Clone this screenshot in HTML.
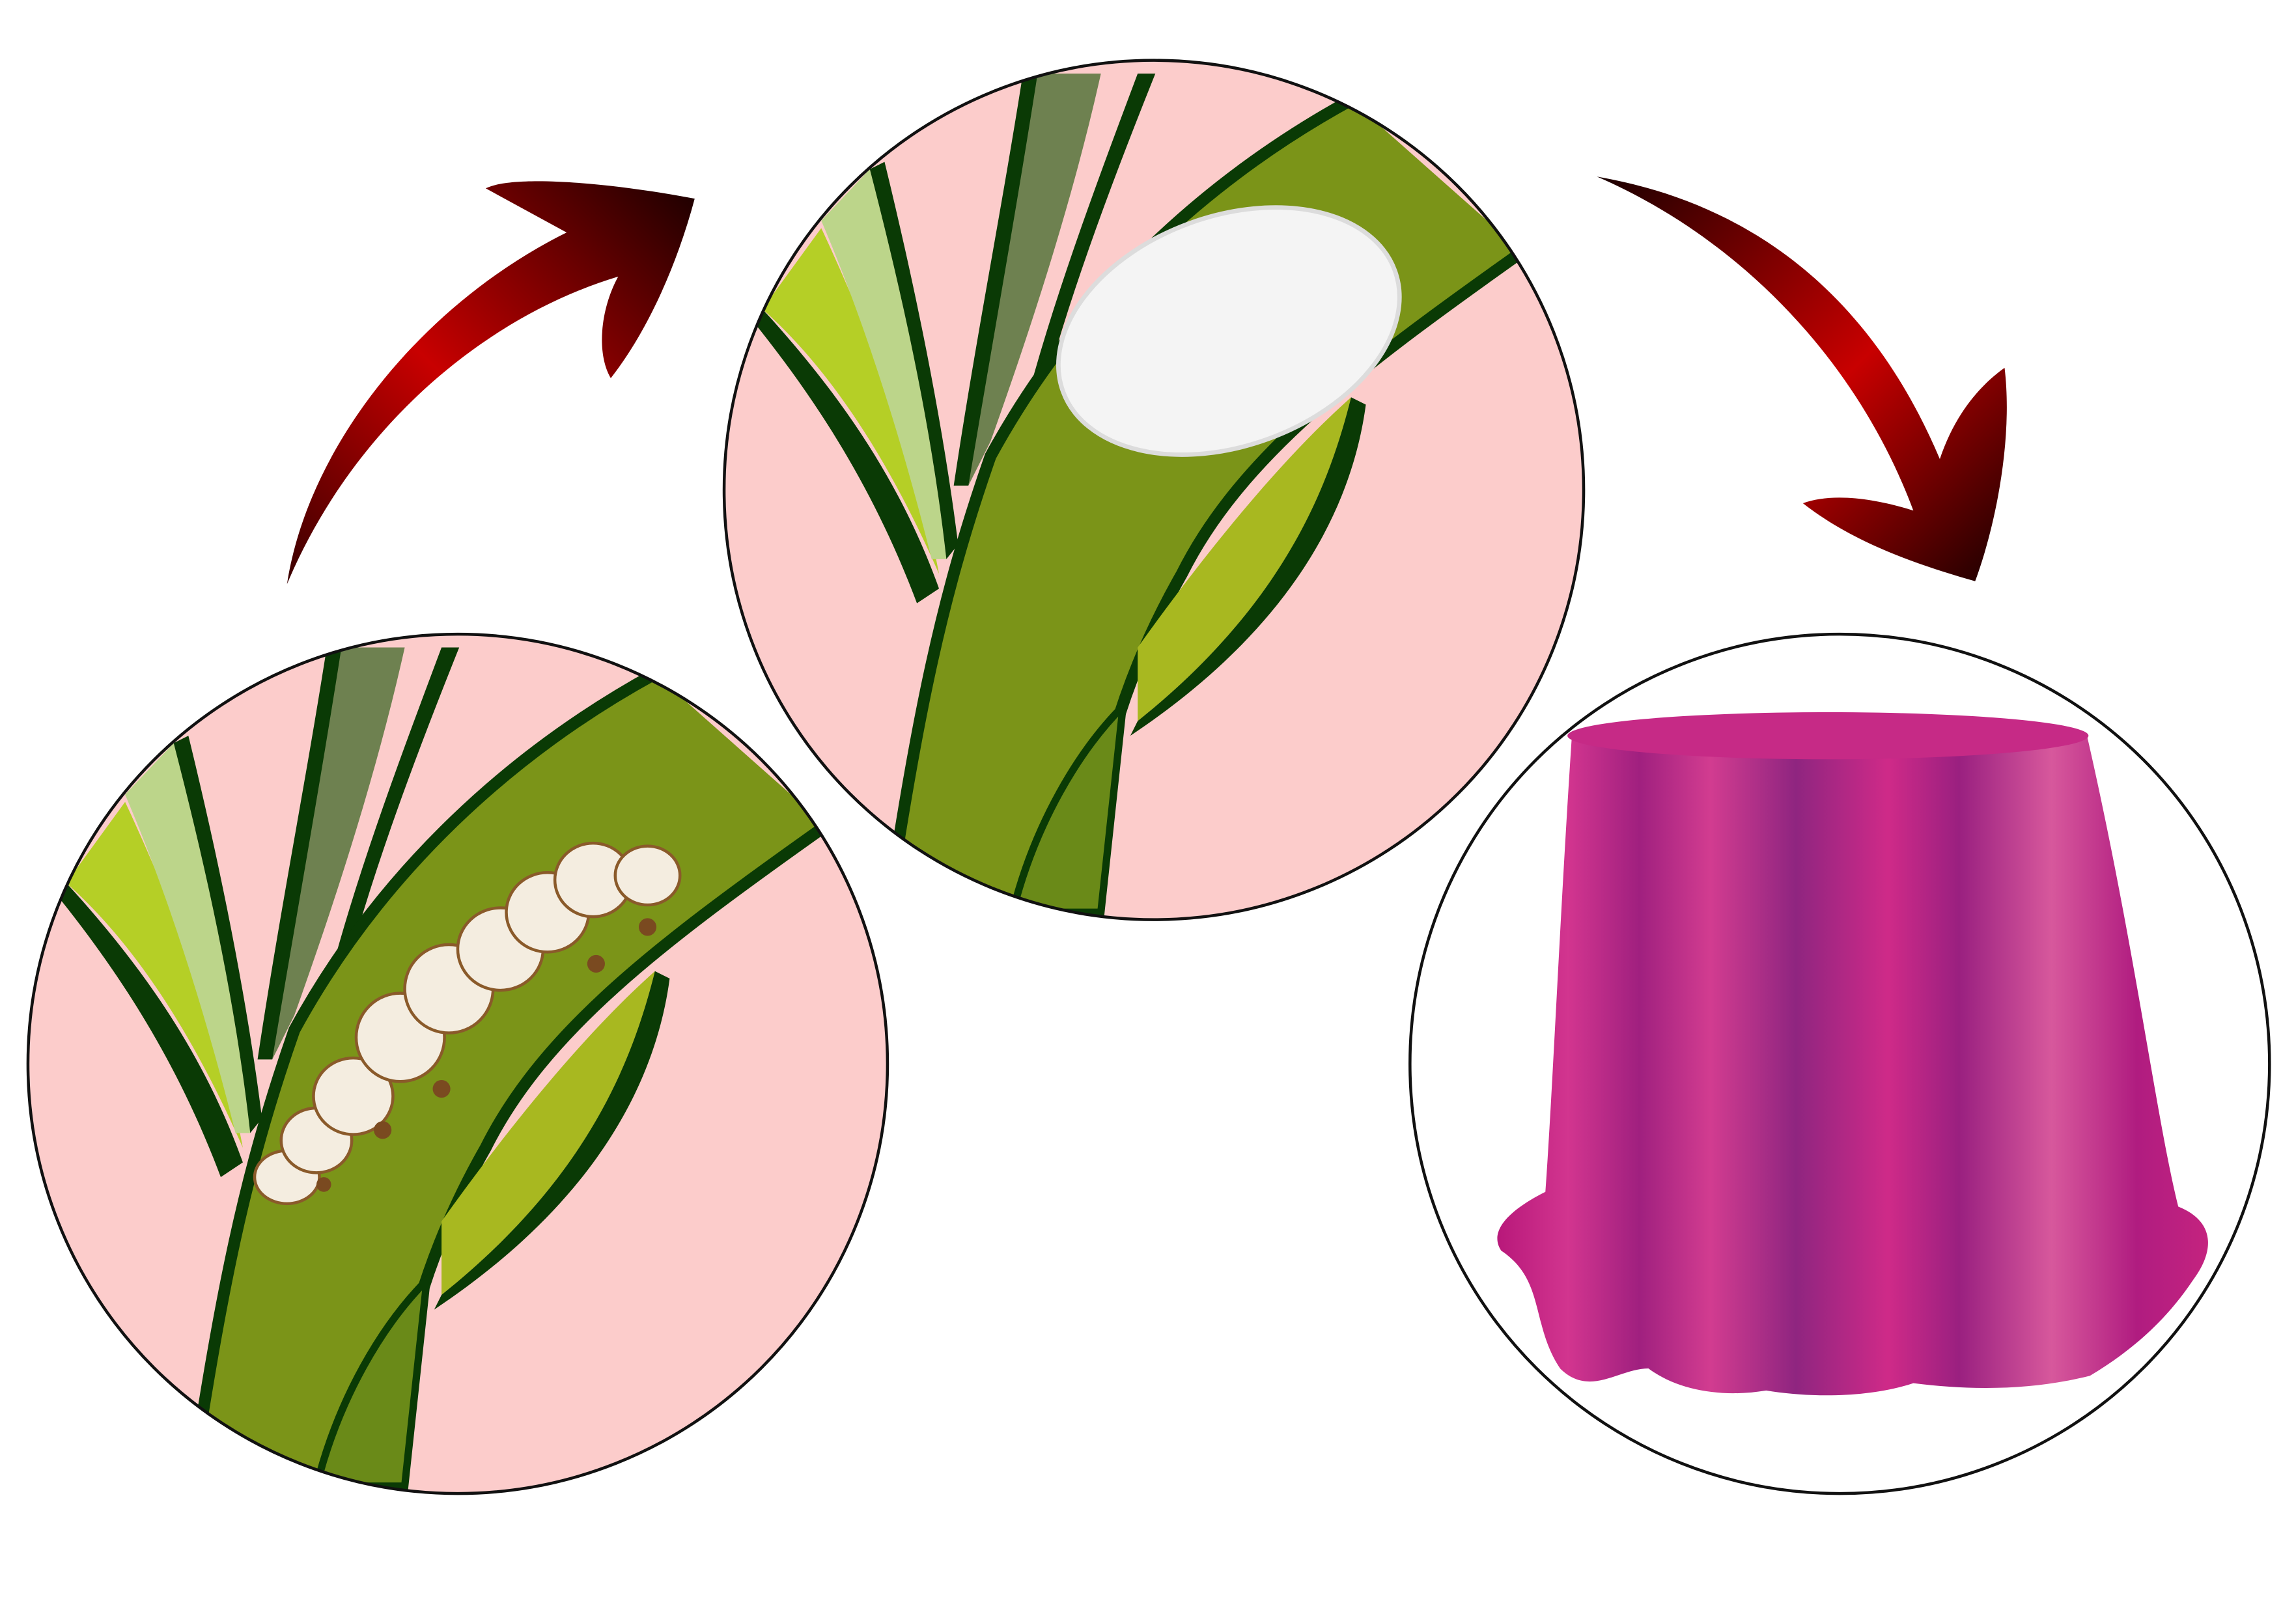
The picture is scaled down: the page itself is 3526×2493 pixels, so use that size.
<!DOCTYPE html>
<html><head><meta charset="utf-8"><style>html,body{margin:0;padding:0;background:#fff}svg{display:block}</style></head>
<body>
<svg width="3526" height="2493" viewBox="0 0 1560 1103" preserveAspectRatio="none" xmlns="http://www.w3.org/2000/svg">
<defs>
<clipPath id="c1" clipPathUnits="userSpaceOnUse"><circle cx="311" cy="723" r="292"/></clipPath>
<linearGradient id="ar1" x1="0" y1="1" x2="1" y2="0">
<stop offset="0" stop-color="#3a0000"/><stop offset="0.45" stop-color="#c80000"/><stop offset="1" stop-color="#1a0000"/></linearGradient>
<linearGradient id="ar2" x1="0" y1="0" x2="1" y2="1">
<stop offset="0" stop-color="#1a0000"/><stop offset="0.55" stop-color="#c80000"/><stop offset="1" stop-color="#1a0000"/></linearGradient>
<linearGradient id="cloth" x1="0" y1="0" x2="1" y2="0">
<stop offset="0" stop-color="#b8187a"/><stop offset="0.1" stop-color="#d2358f"/><stop offset="0.2" stop-color="#a0207f"/>
<stop offset="0.3" stop-color="#d23c90"/><stop offset="0.42" stop-color="#8f2580"/><stop offset="0.55" stop-color="#cf2a88"/>
<stop offset="0.65" stop-color="#9a2080"/><stop offset="0.78" stop-color="#d7589c"/><stop offset="0.9" stop-color="#b01c80"/><stop offset="1" stop-color="#c4237f"/></linearGradient>
<g id="plant">
<circle cx="311" cy="723" r="292" fill="#fccccb"/>
<g clip-path="url(#c1)">
<path d="M45,600 C100,660 140,720 165,790 L150,800 C120,720 80,660 40,610 Z" fill="#0a3a05"/>
<path d="M45,600 L85,545 C120,620 150,700 165,780 C130,700 90,640 45,600 Z" fill="#b5cf26"/>
<path d="M85,540 L118,505 C140,590 160,680 170,770 L160,770 C140,690 115,610 85,540 Z" fill="#bcd58a"/>
<path d="M118,505 L128,500 C150,590 168,680 178,760 L170,770 C160,680 140,590 118,505 Z" fill="#0a3a05"/>
<path d="M230,440 L275,440 C255,530 225,620 200,690 L185,720 C200,620 215,520 230,440 Z" fill="#6e8150"/>
<path d="M222,440 L232,440 C218,530 200,630 185,720 L175,720 C190,620 208,530 222,440 Z" fill="#0a3a05"/>
<path d="M300,440 L312,440 C280,520 250,600 230,680 L220,680 C240,600 270,520 300,440 Z" fill="#0a3a05"/>
<path d="M130,1010 C150,880 165,800 200,700 C260,590 350,510 445,458 L560,560 C450,640 370,700 330,780 C290,850 270,920 265,1010 Z" fill="#7b9418"/>
<path d="M130,1010 C150,880 165,800 200,700 C260,590 350,510 445,458" fill="none" stroke="#0a3a05" stroke-width="8"/>
<path d="M560,562 C450,640 370,700 330,780 C290,850 270,920 262,1010" fill="none" stroke="#0a3a05" stroke-width="8"/>
<path d="M300,830 C350,760 400,700 445,660 C430,720 400,800 300,880 Z" fill="#a8b820"/>
<path d="M300,880 C400,800 430,720 445,660 L455,665 C445,740 400,820 295,890 Z" fill="#0a3a05"/>
<path d="M215,1010 C230,950 260,900 290,870 L275,1010 Z" fill="#6a8a18" stroke="#0a3a05" stroke-width="5"/>
</g>
<circle cx="311" cy="723" r="292" fill="none" stroke="#111" stroke-width="2"/>
</g>
</defs>

<use href="#plant"/>
<use href="#plant" transform="translate(473,-390)"/>

<!-- caterpillar -->
<g stroke="#8a5a2a" stroke-width="2" fill="#f4ede0">
<ellipse cx="195" cy="800" rx="22" ry="18"/>
<ellipse cx="215" cy="775" rx="24" ry="22"/>
<ellipse cx="240" cy="745" rx="27" ry="26"/>
<ellipse cx="272" cy="705" rx="30" ry="30"/>
<ellipse cx="305" cy="672" rx="30" ry="30"/>
<ellipse cx="340" cy="645" rx="29" ry="28"/>
<ellipse cx="372" cy="620" rx="28" ry="27"/>
<ellipse cx="403" cy="598" rx="26" ry="25"/>
<ellipse cx="440" cy="595" rx="22" ry="20"/>
</g>
<g fill="#7a4a20">
<circle cx="260" cy="768" r="6"/><circle cx="300" cy="740" r="6"/><circle cx="405" cy="655" r="6"/><circle cx="440" cy="630" r="6"/><circle cx="220" cy="805" r="5"/>
</g>

<!-- cocoon -->
<ellipse cx="835" cy="225" rx="120" ry="78" transform="rotate(-20 835 225)" fill="#f4f4f4" stroke="#dcdcdc" stroke-width="3"/>

<!-- table circle -->
<circle cx="1250" cy="723" r="292" fill="#fff" stroke="#111" stroke-width="2"/>
<path d="M1068,500 C1060,620 1055,740 1050,810 C1030,820 1010,835 1020,850 C1050,870 1040,900 1060,930 C1080,950 1100,930 1120,930 C1140,945 1170,950 1200,945 C1230,950 1270,950 1300,940 C1340,945 1380,945 1420,935 C1445,920 1470,900 1490,870 C1505,850 1505,830 1480,820 C1465,760 1450,640 1418,500 Z" fill="url(#cloth)"/>
<ellipse cx="1242" cy="500" rx="177" ry="16" fill="#c62a86"/>

<!-- arrows -->
<path d="M195,397 C210,300 290,205 385,158 L330,128 C350,118 420,125 472,135 C460,180 440,225 415,257 C405,240 408,210 420,188 C330,215 240,290 195,397 Z" fill="url(#ar1)"/>
<path d="M1085,120 C1200,140 1275,210 1318,312 C1328,282 1345,262 1362,250 C1368,300 1355,360 1342,395 C1300,383 1258,368 1225,342 C1247,334 1278,340 1300,347 C1262,245 1182,162 1085,120 Z" fill="url(#ar2)"/>
</svg>
</body></html>
